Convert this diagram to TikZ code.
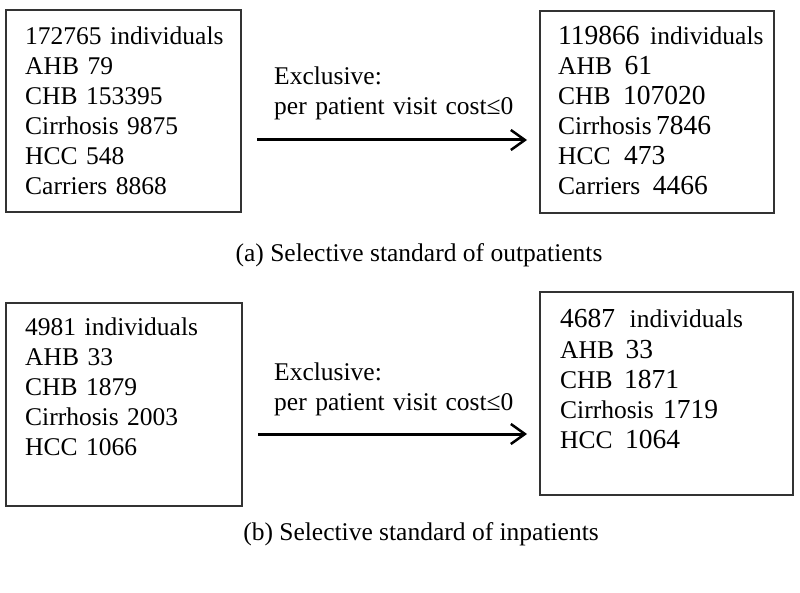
\documentclass[tikz,border=0pt]{standalone}
\usepackage{fontspec}
\setmainfont{Liberation Serif}
\usetikzlibrary{positioning, arrows.meta}

\newcommand{\bnum}[1]{{\fontsize{27.5}{30}\selectfont #1}}

\begin{document}
\begin{tikzpicture}[x=1pt, y=-1pt,
  box/.style={draw=black!80, line width=2pt, rectangle, anchor=north west, inner sep=0pt},
  list/.style={anchor=base west, align=left, text width=220pt, inner sep=0pt, font=\fontsize{25.5}{30}\selectfont},
  caption/.style={anchor=base, inner sep=0pt, font=\fontsize{25.5}{30}\selectfont},
  flow/.style={-{Straight Barb[length=14pt,width=20pt,line width=2.5pt]}, line width=3pt}]
  \useasboundingbox (0,0) rectangle (800,593);

  % (a) outpatients
  \node (outAll) [box, minimum width=235pt, minimum height=202pt] at (5,9) {};
  \node (outKept) [box, minimum width=234pt, minimum height=202pt] at (539,10) {};
  \node (outAllList) [list] at (25,45) {172765 individuals\\AHB 79\\CHB 153395\\Cirrhosis 9875\\HCC 548\\Carriers 8868};
  \node (outKeptList) [list] at (558,45) {\bnum{119866}\hspace{2pt} individuals\\AHB\hspace{4pt} \bnum{61}\\CHB\hspace{4pt} \bnum{107020}\\Cirrhosis\hspace{-4pt} \bnum{7846}\\HCC\hspace{5pt} \bnum{473}\\Carriers\hspace{4pt} \bnum{4466}};
  \node (outRule) [list, text width=250pt] at (274,85) {Exclusive:\\per patient visit cost≤0};
  \draw[flow, shorten <=15pt, shorten >=12pt] ([yshift=-29pt]outAll.east) -- ([yshift=-29pt]outAll.east -| outKept.west);
  \node (capOut) [caption] at (419,262) {(a) Selective standard of outpatients};

  % (b) inpatients
  \node (inAll) [box, minimum width=236pt, minimum height=203pt] at (5,302) {};
  \node (inKept) [box, minimum width=253pt, minimum height=203pt] at (539,291) {};
  \node (inAllList) [list] at (25,335) {4981 individuals\\AHB 33\\CHB 1879\\Cirrhosis 2003\\HCC 1066};
  \node (inKeptList) [list] at (560,328) {\bnum{4687}\hspace{6pt} individuals\\AHB\hspace{3pt} \bnum{33}\\CHB\hspace{3pt} \bnum{1871}\\Cirrhosis\hspace{1pt} \bnum{1719}\\HCC\hspace{4pt} \bnum{1064}};
  \node (inRule) [list, text width=250pt] at (274,380) {Exclusive:\\per patient visit cost≤0};
  \draw[flow, shorten <=15pt, shorten >=12pt] ([yshift=-29.5pt]inAll.east) -- ([yshift=-29.5pt]inAll.east -| inKept.west);
  \node (capIn) [caption] at (421,540) {(b) Selective standard of inpatients};
\end{tikzpicture}
\end{document}
